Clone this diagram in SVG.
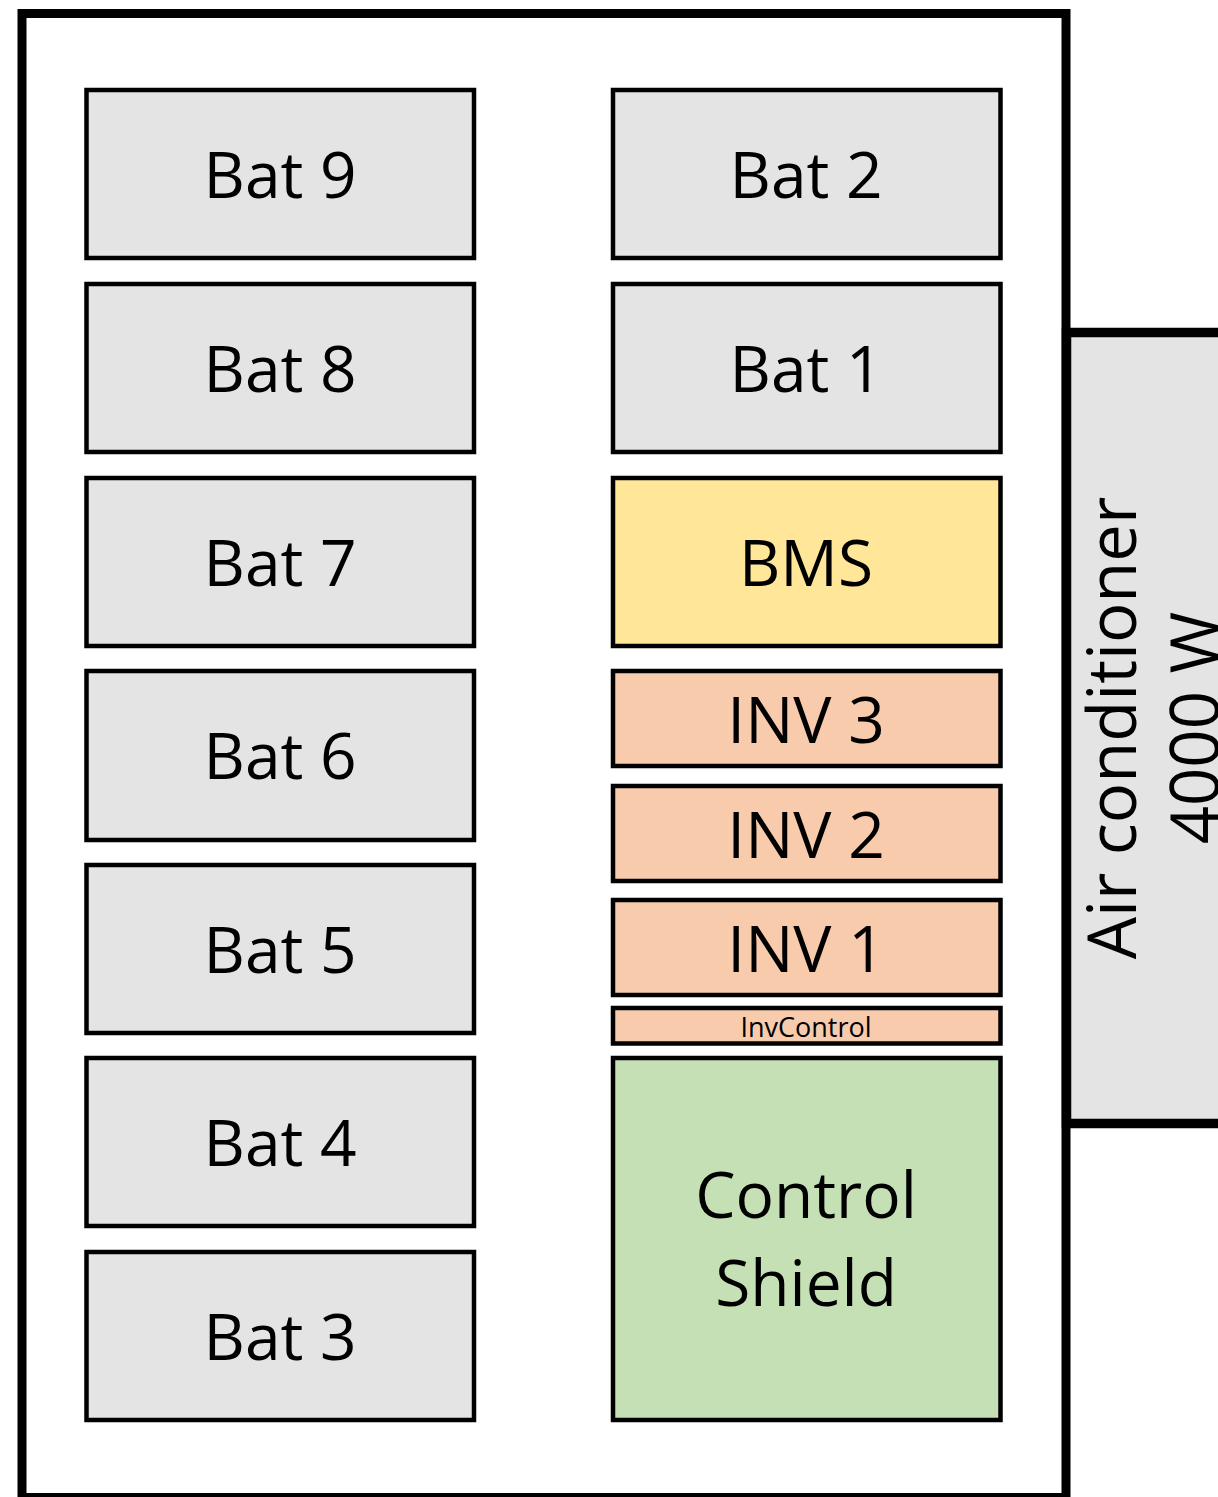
<svg xmlns="http://www.w3.org/2000/svg" width="1218" height="1497" viewBox="0 0 1218 1497">
<style>
.box{stroke:#000;stroke-width:4.5}
.bat{fill:#E4E4E4}
.bms{fill:#FFE699}
.inv{fill:#F8CBAD}
.ctl{fill:#C5E0B4}
text{font-family:"Open Sans","Liberation Sans",sans-serif;fill:#000;text-anchor:middle}
.big{font-size:64px}
.ac{font-size:67px}
.small{font-size:27px}
</style>
<rect width="1218" height="1497" fill="#fff"/>
<g id="frame"><rect x="22" y="13.5" width="1044" height="1484" fill="#fff" stroke="#000" stroke-width="9"/></g>
<g id="ac">
<rect x="1066.5" y="332.5" width="200" height="791" fill="#E4E4E4" stroke="#000" stroke-width="9.5"/>
<text class="ac" transform="translate(1136 728) rotate(-90)">Air conditioner</text>
<text class="ac" transform="translate(1219 728) rotate(-90)">4000 W</text>
</g>
<g id="bat9"><rect class="box bat" x="86.5" y="90" width="387.5" height="168"/><text class="big" x="280" y="198">Bat 9</text></g>
<g id="bat8"><rect class="box bat" x="86.5" y="284" width="387.5" height="168"/><text class="big" x="280" y="392">Bat 8</text></g>
<g id="bat7"><rect class="box bat" x="86.5" y="478" width="387.5" height="168"/><text class="big" x="280" y="586">Bat 7</text></g>
<g id="bat6"><rect class="box bat" x="86.5" y="671" width="387.5" height="169"/><text class="big" x="280" y="779">Bat 6</text></g>
<g id="bat5"><rect class="box bat" x="86.5" y="865" width="387.5" height="168"/><text class="big" x="280" y="973">Bat 5</text></g>
<g id="bat4"><rect class="box bat" x="86.5" y="1058" width="387.5" height="168"/><text class="big" x="280" y="1166">Bat 4</text></g>
<g id="bat3"><rect class="box bat" x="86.5" y="1252" width="387.5" height="168"/><text class="big" x="280" y="1360">Bat 3</text></g>
<g id="bat2"><rect class="box bat" x="613" y="90" width="387.5" height="168"/><text class="big" x="806" y="198">Bat 2</text></g>
<g id="bat1"><rect class="box bat" x="613" y="284" width="387.5" height="168"/><text class="big" x="806" y="392">Bat 1</text></g>
<g id="bms"><rect class="box bms" x="613" y="478" width="387.5" height="168"/><text class="big" x="806" y="586">BMS</text></g>
<g id="inv3"><rect class="box inv" x="613" y="671" width="387.5" height="95"/><text class="big" x="806" y="743">INV 3</text></g>
<g id="inv2"><rect class="box inv" x="613" y="786" width="387.5" height="95"/><text class="big" x="806" y="858">INV 2</text></g>
<g id="inv1"><rect class="box inv" x="613" y="900" width="387.5" height="95"/><text class="big" x="806" y="972">INV 1</text></g>
<g id="invcontrol"><rect class="box inv" x="613" y="1008" width="387.5" height="35.5"/><text class="small" x="806" y="1037">InvControl</text></g>
<g id="controlshield"><rect class="box ctl" x="613" y="1058" width="387.5" height="362"/><text class="big" x="806" y="1218">Control</text><text class="big" x="806" y="1306">Shield</text></g>
<g id="connectors"></g>
</svg>
